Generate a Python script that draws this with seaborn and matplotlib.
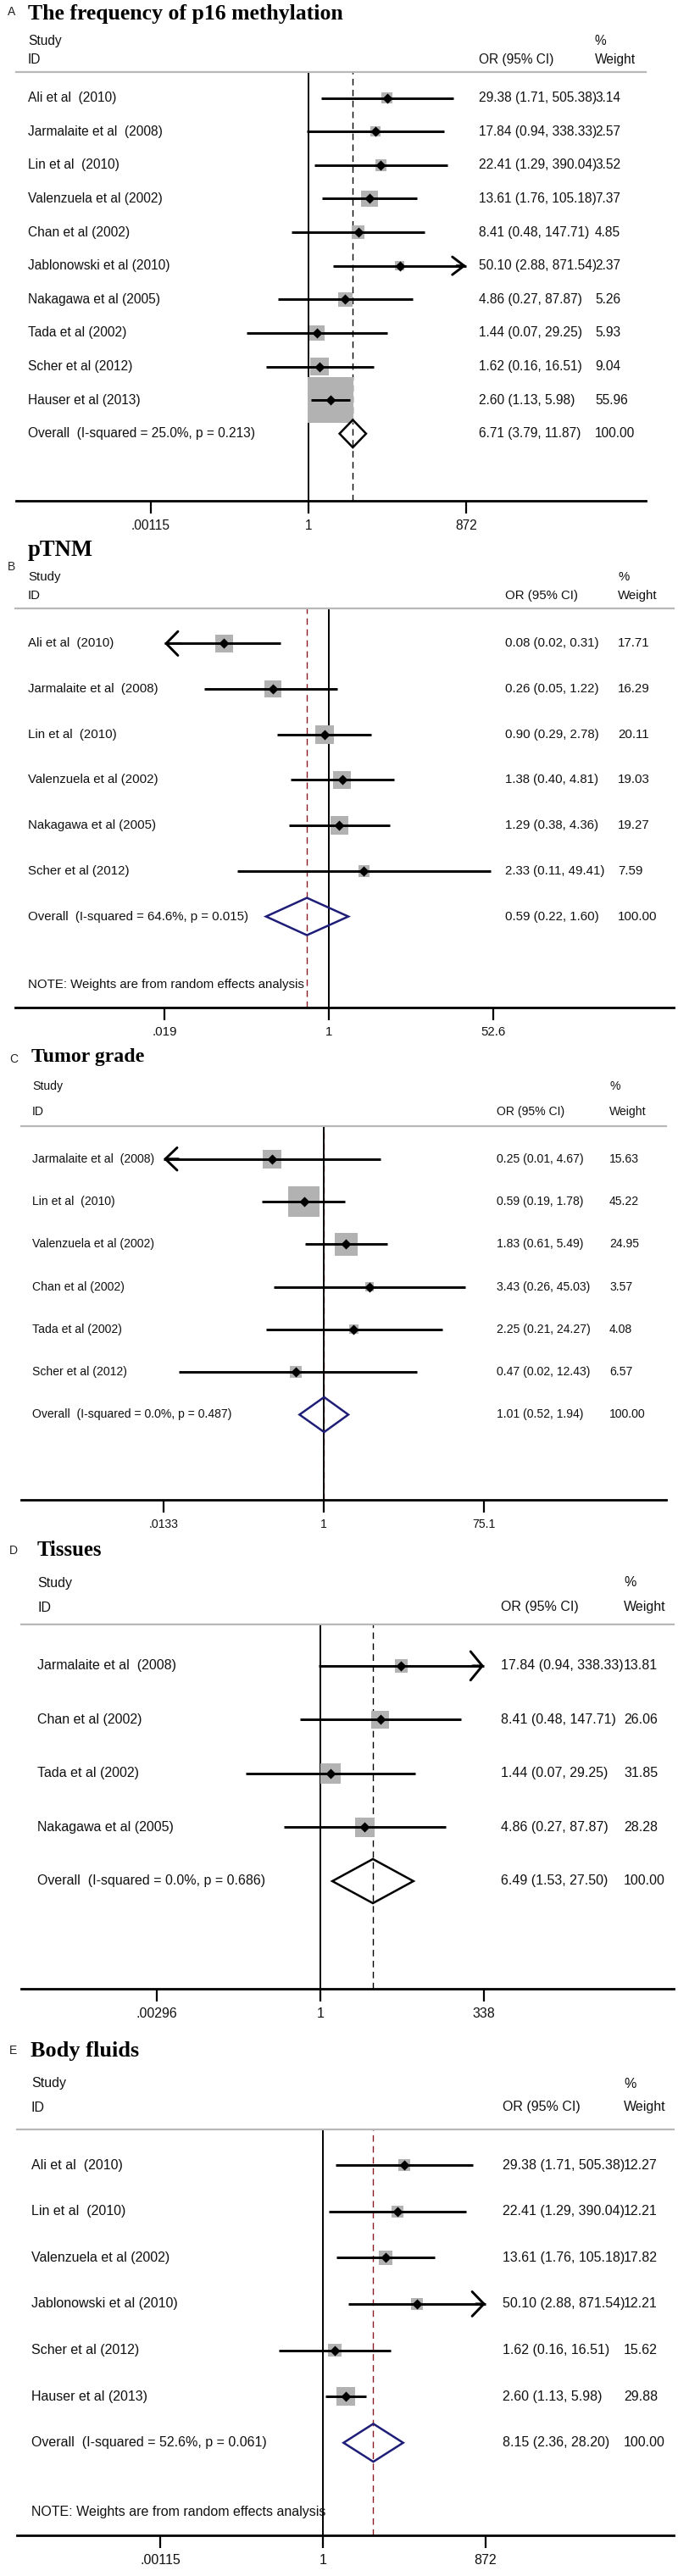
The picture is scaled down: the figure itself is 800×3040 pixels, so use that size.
import numpy as np
import matplotlib
matplotlib.use("Agg")
import matplotlib.pyplot as plt
import matplotlib.transforms as mtransforms
from matplotlib.ticker import NullLocator
import seaborn as sns

# ---------------- data ----------------
# A - frequency of p16 methylation
a_studies = ["Ali et al  (2010)", "Jarmalaite et al  (2008)", "Lin et al  (2010)",
             "Valenzuela et al (2002)", "Chan et al (2002)", "Jablonowski et al (2010)",
             "Nakagawa et al (2005)", "Tada et al (2002)", "Scher et al (2012)",
             "Hauser et al (2013)"]
a_or = [29.38, 17.84, 22.41, 13.61, 8.41, 50.10, 4.86, 1.44, 1.62, 2.60]
a_lo = [1.71, 0.94, 1.29, 1.76, 0.48, 2.88, 0.27, 0.07, 0.16, 1.13]
a_hi = [505.38, 338.33, 390.04, 105.18, 147.71, 871.54, 87.87, 29.25, 16.51, 5.98]
a_w = [3.14, 2.57, 3.52, 7.37, 4.85, 2.37, 5.26, 5.93, 9.04, 55.96]
a_overall = [6.71, 3.79, 11.87]
a_het = [25.0, 0.213]
a_ticks = [".00115", "1", "872"]
a_lim = 871.54

# B - pTNM
b_studies = ["Ali et al  (2010)", "Jarmalaite et al  (2008)", "Lin et al  (2010)",
             "Valenzuela et al (2002)", "Nakagawa et al (2005)", "Scher et al (2012)"]
b_or = [0.08, 0.26, 0.90, 1.38, 1.29, 2.33]
b_lo = [0.019, 0.05, 0.29, 0.40, 0.38, 0.11]
b_hi = [0.31, 1.22, 2.78, 4.81, 4.36, 49.41]
b_w = [17.71, 16.29, 20.11, 19.03, 19.27, 7.59]
b_overall = [0.59, 0.22, 1.60]
b_het = [64.6, 0.015]
b_ticks = [".019", "1", "52.6"]
b_lim = 52.6

# C - tumor grade
c_studies = ["Jarmalaite et al  (2008)", "Lin et al  (2010)", "Valenzuela et al (2002)",
             "Chan et al (2002)", "Tada et al (2002)", "Scher et al (2012)"]
c_or = [0.25, 0.59, 1.83, 3.43, 2.25, 0.47]
c_lo = [0.0133, 0.19, 0.61, 0.26, 0.21, 0.02]
c_hi = [4.67, 1.78, 5.49, 45.03, 24.27, 12.43]
c_w = [15.63, 45.22, 24.95, 3.57, 4.08, 6.57]
c_overall = [1.01, 0.52, 1.94]
c_het = [0.0, 0.487]
c_ticks = [".0133", "1", "75.1"]
c_lim = 75.1

# D - tissues
d_studies = ["Jarmalaite et al  (2008)", "Chan et al (2002)", "Tada et al (2002)",
             "Nakagawa et al (2005)"]
d_or = [17.84, 8.41, 1.44, 4.86]
d_lo = [0.94, 0.48, 0.07, 0.27]
d_hi = [338.33, 147.71, 29.25, 87.87]
d_w = [13.81, 26.06, 31.85, 28.28]
d_overall = [6.49, 1.53, 27.50]
d_het = [0.0, 0.686]
d_ticks = [".00296", "1", "338"]
d_lim = 338.33

# E - body fluids
e_studies = ["Ali et al  (2010)", "Lin et al  (2010)", "Valenzuela et al (2002)",
             "Jablonowski et al (2010)", "Scher et al (2012)", "Hauser et al (2013)"]
e_or = [29.38, 22.41, 13.61, 50.10, 1.62, 2.60]
e_lo = [1.71, 1.29, 1.76, 2.88, 0.16, 1.13]
e_hi = [505.38, 390.04, 105.18, 871.54, 16.51, 5.98]
e_w = [12.27, 12.21, 17.82, 12.21, 15.62, 29.88]
e_overall = [8.15, 2.36, 28.20]
e_het = [52.6, 0.061]
e_ticks = [".00115", "1", "872"]
e_lim = 871.54

titles = ["The frequency of p16 methylation", "pTNM", "Tumor grade", "Tissues", "Body fluids"]
letters = ["A", "B", "C", "D", "E"]
note_text = "NOTE: Weights are from random effects analysis"

# ---------------- style ----------------
sns.set_style("white")
plt.rcParams["font.family"] = ["Liberation Sans", "DejaVu Sans"]
SANS = ["Liberation Sans", "DejaVu Sans"]
SERIF = ["Liberation Serif", "DejaVu Serif"]
NAVY = "#1e1e78"
MAROON = "#8c1a22"
BOXGRAY = "#b2b2b2"
W, H = 800, 3040

panels = [
    dict(studies=a_studies, est=a_or, lo=a_lo, hi=a_hi, w=a_w, overall=a_overall, het=a_het,
         ticks=a_ticks, lim=a_lim, note=False),
    dict(studies=b_studies, est=b_or, lo=b_lo, hi=b_hi, w=b_w, overall=b_overall, het=b_het,
         ticks=b_ticks, lim=b_lim, note=True),
    dict(studies=c_studies, est=c_or, lo=c_lo, hi=c_hi, w=c_w, overall=c_overall, het=c_het,
         ticks=c_ticks, lim=c_lim, note=False),
    dict(studies=d_studies, est=d_or, lo=d_lo, hi=d_hi, w=d_w, overall=d_overall, het=d_het,
         ticks=d_ticks, lim=d_lim, note=False),
    dict(studies=e_studies, est=e_or, lo=e_lo, hi=e_hi, w=e_w, overall=e_overall, het=e_het,
         ticks=e_ticks, lim=e_lim, note=True),
]

# layout in pixels (left, right, x of OR=1, x of the limit tick, header line y, axis y ...)
layouts = [
    dict(L=19, R=762, N=364, T=550, top=85, bot=591, txt=33, orx=565, wx=702,
         study=48, idy=70, title=(33, 16), letter=(9, 14), box=7.2, dia="black", ref="black",
         fs=11.2, tfs=18.5),
    dict(L=18, R=795, N=388, T=582, top=718, bot=1189, txt=33, orx=596, wx=729,
         study=681, idy=703, title=(33, 650), letter=(9, 669), box=4.9, dia=NAVY, ref=MAROON,
         fs=10.8, tfs=19.2),
    dict(L=25, R=786, N=382, T=571, top=1329, bot=1770, txt=38, orx=586, wx=719,
         study=1282, idy=1312, title=(37, 1248), letter=(11, 1250), box=5.5, dia=NAVY, ref=MAROON,
         fs=10.1, tfs=17.2),
    dict(L=25, R=795, N=378, T=571, top=1917, bot=2347, txt=44, orx=591, wx=736,
         study=1868, idy=1897, title=(44, 1830), letter=(11, 1830), box=4.2, dia="black", ref="black",
         fs=11.5, tfs=17.8),
    dict(L=20, R=795, N=381, T=573, top=2513, bot=2992, txt=37, orx=593, wx=736,
         study=2459, idy=2487, title=(36, 2420), letter=(11, 2420), box=4.0, dia=NAVY, ref=MAROON,
         fs=11.5, tfs=18.9),
]


def draw_panel(fig, p, lay, title, letter):
    n = len(p["studies"])
    fs = lay["fs"]
    top_pad = 0.77
    dy = (lay["bot"] - lay["top"]) / (n + 2 + top_pad)
    row0 = lay["top"] + top_pad * dy

    ax = fig.add_axes([lay["L"] / W, 1 - lay["bot"] / H,
                       (lay["R"] - lay["L"]) / W, (lay["bot"] - lay["top"]) / H])
    ax.set_xscale("log")
    k = np.log(p["lim"]) / (lay["T"] - lay["N"])
    ax.set_xlim(np.exp((lay["L"] - lay["N"]) * k), np.exp((lay["R"] - lay["N"]) * k))
    ax.set_ylim(n + 2, -top_pad)

    lim_lo, lim_hi = 1 / p["lim"], p["lim"]
    rows = np.arange(n)
    est = np.array(p["est"])
    lo = np.array(p["lo"])
    hi = np.array(p["hi"])
    w = np.array(p["w"])

    # reference lines (null line on top of the pooled-estimate line)
    ax.axvline(p["overall"][0], color=lay["ref"], lw=1.0, ls=(0, (5.5, 3.8)), zorder=1)
    ax.axvline(1, color="black", lw=1.4, zorder=1.5)

    # weight boxes
    side_pt = lay["box"] * np.sqrt(w) * 0.72
    ax.scatter(est, rows, marker="s", s=side_pt ** 2, color=BOXGRAY, linewidths=0, zorder=2)

    # confidence intervals, clipped with arrows at the axis limits
    lo_c = np.maximum(lo, lim_lo)
    hi_c = np.minimum(hi, lim_hi)
    ax.hlines(rows, lo_c, hi_c, color="black", lw=2.1, zorder=3)
    head = 0.265 * dy * 0.72
    style = f"->,head_length={10 / 20:.2f},head_width={head / 20:.2f}"
    for r in rows:
        if lo[r] <= lim_lo * 1.005:
            ax.annotate("", xy=(lim_lo, r), xytext=(lim_lo * 1.5, r),
                        arrowprops=dict(arrowstyle=style, lw=2.1, color="black",
                                        shrinkA=0, shrinkB=0, mutation_scale=20), zorder=3)
        if hi[r] >= lim_hi * 0.995:
            ax.annotate("", xy=(lim_hi, r), xytext=(lim_hi / 1.5, r),
                        arrowprops=dict(arrowstyle=style, lw=2.1, color="black",
                                        shrinkA=0, shrinkB=0, mutation_scale=20), zorder=3)

    sns.scatterplot(x=est, y=rows, marker="D", color="black", s=38, linewidth=0,
                    ax=ax, zorder=4, legend=False)

    # overall diamond
    o_est, o_lo, o_hi = p["overall"]
    h = 0.41
    ax.fill([o_lo, o_est, o_hi, o_est], [n, n - h, n, n + h], fill=False,
            edgecolor=lay["dia"], lw=1.8, zorder=5)

    # text columns
    trans = mtransforms.blended_transform_factory(fig.transFigure, ax.transData)
    tx, ox, wx = lay["txt"] / W, lay["orx"] / W, lay["wx"] / W

    def put(x, y, s):
        ax.text(x, y, s, transform=trans, ha="left", va="center", fontsize=fs,
                family=SANS, color="#111111", clip_on=False)

    for r in rows:
        put(tx, r, p["studies"][r])
        put(ox, r, f"{est[r]:.2f} ({lo[r]:.2f}, {hi[r]:.2f})")
        put(wx, r, f"{w[r]:.2f}")
    put(tx, n, f"Overall  (I-squared = {p['het'][0]:.1f}%, p = {p['het'][1]:.3f})")
    put(ox, n, f"{o_est:.2f} ({o_lo:.2f}, {o_hi:.2f})")
    put(wx, n, "100.00")
    if p["note"]:
        put(tx, n + 1.5, note_text)

    ys = (lay["study"] - row0) / dy
    yi = (lay["idy"] - row0) / dy
    put(tx, ys, "Study")
    put(tx, yi, "ID")
    put(ox, yi, "OR (95% CI)")
    put(wx, ys, "%")
    put(wx, yi, "Weight")

    # axes look
    ax.set_yticks([])
    ax.set_xticks([lim_lo, 1, lim_hi])
    ax.set_xticklabels(p["ticks"])
    ax.xaxis.set_minor_locator(NullLocator())
    ax.tick_params(axis="x", length=11, width=1.6, pad=5, labelsize=fs,
                   color="black", labelcolor="#111111", bottom=True)
    for lab in ax.get_xticklabels():
        lab.set_family(SANS)
    ax.spines["left"].set_visible(False)
    ax.spines["right"].set_visible(False)
    ax.spines["top"].set_color("#b8b8b8")
    ax.spines["top"].set_linewidth(1.6)
    ax.spines["bottom"].set_color("black")
    ax.spines["bottom"].set_linewidth(2.0)
    ax.set_xlabel("")
    ax.set_ylabel("")
    ax.patch.set_alpha(0)

    fig.text(lay["title"][0] / W, 1 - lay["title"][1] / H, title, ha="left", va="center",
             fontsize=lay["tfs"], fontweight="bold", family=SERIF, color="black")
    fig.text(lay["letter"][0] / W, 1 - lay["letter"][1] / H, letter, ha="left", va="center",
             fontsize=10, family=SANS, color="#222222")


fig = plt.figure(figsize=(W / 100, H / 100), dpi=100)
fig.patch.set_facecolor("white")
for p, lay, t, l in zip(panels, layouts, titles, letters):
    draw_panel(fig, p, lay, t, l)

fig.savefig("out.png", dpi=100, facecolor="white")
